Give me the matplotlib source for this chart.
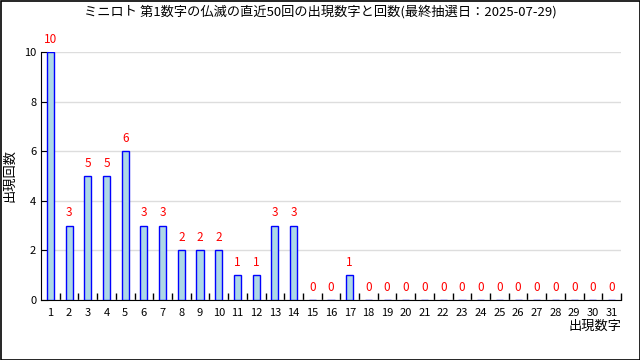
import matplotlib
matplotlib.use('Agg')
import matplotlib.pyplot as plt
from matplotlib.ticker import MultipleLocator, FixedLocator
from matplotlib.patches import Rectangle

plt.rcParams['font.family'] = ['Noto Sans CJK JP', 'DejaVu Sans']

# ミニロト 第1数字 仏滅 直近50回
numbers = [str(i) for i in range(1, 32)]
counts = [10, 3, 5, 5, 6, 3, 3, 2, 2, 2, 1, 1, 3, 3, 0, 0, 1,
          0, 0, 0, 0, 0, 0, 0, 0, 0, 0, 0, 0, 0, 0]
title = 'ミニロト 第1数字の仏滅の直近50回の出現数字と回数(最終抽選日：2025-07-29)'

fig = plt.figure(figsize=(6.4, 3.6), dpi=100)
# 外枠
fig.patches.append(Rectangle((0.5/640, 0.5/360), 639/640, 359/360, transform=fig.transFigure,
                             fill=False, edgecolor='black', linewidth=1.2))
ax = fig.add_axes([41/640, 60/360, 580/640, 248/360])

x = list(range(len(numbers)))
ax.bar(x, counts, width=0.38, color='#add8e6', edgecolor='blue', linewidth=1, zorder=3)
for xi, c in zip(x, counts):
    ax.text(xi, c + 0.25, str(c), ha='center', va='bottom', color='red', fontsize=8.5)

ax.set_xlim(-0.5, len(numbers) - 0.5)
ax.set_ylim(0, 10)
ax.yaxis.set_major_locator(MultipleLocator(2))
ax.grid(axis='y', color='#dddddd', linewidth=1, zorder=0)
ax.set_xticks(x)
ax.set_xticklabels(numbers, fontsize=8)
ax.tick_params(axis='x', which='major', length=0, pad=6)
ax.xaxis.set_minor_locator(FixedLocator([i + 0.5 for i in x[:-1]] + [len(numbers) - 0.5]))
ax.tick_params(axis='x', which='minor', direction='in', length=5, width=1)
ax.tick_params(axis='y', direction='in', length=5, labelsize=8)
for s in ['top', 'right']:
    ax.spines[s].set_visible(False)

fig.text(0.5, 1 - 12/360, title, ha='center', va='center', fontsize=9.5)
ax.set_ylabel('出現回数', fontsize=9.5, va='center')
ax.yaxis.set_label_coords(-31/580, 0.5)
ax.text(1.0, -0.08, '出現数字', transform=ax.transAxes, ha='right', va='top', fontsize=9.5)

fig.savefig('out.png', dpi=100)
